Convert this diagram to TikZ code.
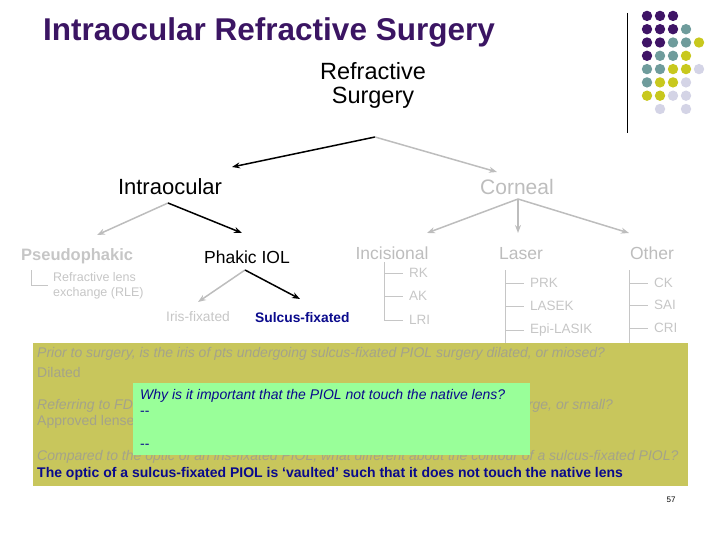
\documentclass[tikz,border=0pt]{standalone}
\usepackage{fontspec}
\setmainfont{Liberation Sans}
\usetikzlibrary{arrows.meta,positioning}

\definecolor{titlepurple}{HTML}{3B1563}
\definecolor{dotP}{HTML}{3F1466}
\definecolor{dotT}{HTML}{6F9C9C}
\definecolor{dotY}{HTML}{C8C81E}
\definecolor{dotL}{HTML}{D4D4E6}
\definecolor{dotN}{HTML}{FFFFFF}
\definecolor{treegray}{HTML}{BDBDBD}
\definecolor{leafgray}{HTML}{C6C6C6}
\definecolor{quizyellow}{HTML}{C8C65C}
\definecolor{quizgray}{HTML}{A4A38A}
\definecolor{answerblue}{HTML}{0A0A8C}
\definecolor{notegreen}{HTML}{99FF99}

\begin{document}
\begin{tikzpicture}[
    x=1pt, y=-1pt,
    >={Stealth[length=8pt,width=6pt]},
    main arrow/.style={->, line width=1.5pt, black},
    faded arrow/.style={->, line width=1.5pt, color=treegray},
    branch/.style={line width=0.7pt, color=leafgray},
    cat/.style={font=\fontsize{22}{24}\selectfont, align=center, inner sep=0pt},
    sub/.style={font=\fontsize{17.5}{20}\selectfont, inner sep=0pt},
    leaf/.style={font=\fontsize{13.5}{15}\selectfont, text=leafgray, anchor=west, inner xsep=6pt, inner ysep=0pt},
    quiz/.style={font=\fontsize{14}{16}\selectfont, anchor=west, inner sep=0pt},
]

\useasboundingbox (0,0) rectangle (720,540);

% Title and logo
\node[anchor=west, inner sep=0pt, font=\fontsize{31.5}{34}\selectfont\bfseries, text=titlepurple] (title) at (43,32) {Intraocular Refractive Surgery};
\coordinate (logoTop) at (627,13);
\coordinate (logoBot) at (627,133);
\draw[line width=1pt] (logoTop) -- (logoBot);
\foreach \row [count=\r] in {{P,P,P},{P,P,P,T},{P,P,T,T,Y},{P,T,T,Y},{T,T,Y,Y,L},{T,Y,Y,L},{Y,Y,L,L},{N,L,N,L}}
    \foreach \k [count=\c] in \row
        \fill[dot\k] (634+13*\c, 2.6+13.3*\r) circle (5.2);

% Top level
\node[cat, font=\fontsize{23.5}{24}\selectfont] (refr) at (373,85) {Refractive\\Surgery};
\node[cat] (intra) at (170,187) {Intraocular};
\node[cat, font=\fontsize{21}{24}\selectfont, text=treegray] (corn) at (517,187) {Corneal};

\coordinate (rsFoot) at (375,137);
\coordinate (intraIn) at (232,167);
\coordinate (cornIn) at (497,172);
\draw[main arrow] (rsFoot) -- (intraIn);
\draw[faded arrow] (rsFoot) -- (cornIn);

% Intraocular branch
\node[sub, font=\fontsize{16.5}{20}\selectfont\bfseries, text=leafgray, anchor=west] (pseudo) at (21,256) {Pseudophakic};
\node[sub, anchor=west] (phakic) at (204,257) {Phakic IOL};

\coordinate (intraFoot) at (168,203);
\coordinate (pseudoIn) at (97,235);
\coordinate (phakicIn) at (242,233);
\draw[faded arrow] (intraFoot) -- (pseudoIn);
\draw[main arrow] (intraFoot) -- (phakicIn);

\coordinate (pseudoTop) at (31,270);
\node[leaf, font=\fontsize{12.5}{15}\selectfont, align=left, inner xsep=5pt] (rle) at (48,285.5) {Refractive lens\\exchange (RLE)};
\draw[branch] (pseudoTop) |- (rle.west);

\node[anchor=west, inner sep=0pt, font=\fontsize{13.8}{15}\selectfont, text=leafgray] (iris) at (166,317) {Iris-fixated};
\node[anchor=west, inner sep=0pt, font=\fontsize{13.8}{15}\selectfont\bfseries, text=answerblue] (sulcus) at (255,318) {Sulcus-fixated};

\coordinate (phakicFoot) at (245,270);
\coordinate (irisIn) at (198,302);
\coordinate (sulcusIn) at (300,299);
\draw[faded arrow] (phakicFoot) -- (irisIn);
\draw[main arrow] (phakicFoot) -- (sulcusIn);

% Corneal branch
\node[sub, text=treegray] (incis) at (392,253) {Incisional};
\node[sub, text=treegray] (laser) at (521,254) {Laser};
\node[sub, text=treegray] (other) at (652,253) {Other};

\coordinate (cornFoot) at (518,199);
\coordinate (incisIn) at (427,233);
\coordinate (laserIn) at (518,233);
\coordinate (otherIn) at (629,233);
\draw[faded arrow] (cornFoot) -- (incisIn);
\draw[faded arrow] (cornFoot) -- (laserIn);
\draw[faded arrow] (cornFoot) -- (otherIn);

% Leaves
\node[leaf] (rk)  at (403,273) {RK};
\node[leaf] (ak)  at (403,296) {AK};
\node[leaf] (lri) at (403,320) {LRI};
\coordinate (incisTop) at (384,262);
\draw[branch] (incisTop) |- (rk.west) (incisTop) |- (ak.west) (incisTop) |- (lri.west);

\node[leaf] (prk)   at (524,283) {PRK};
\node[leaf] (lasek) at (524,306) {LASEK};
\node[leaf] (epi)   at (524,330) {Epi-LASIK};
\coordinate (laserTop) at (505,270);
\coordinate (laserBot) at (505,350);
\draw[branch] (laserTop) -- (laserBot) (laserTop) |- (prk.west) (laserTop) |- (lasek.west) (laserTop) |- (epi.west);

\node[leaf] (ck)  at (648,283) {CK};
\node[leaf] (sai) at (648,305) {SAI};
\node[leaf] (cri) at (648,328) {CRI};
\coordinate (otherTop) at (629,270);
\coordinate (otherBot) at (629,350);
\draw[branch] (otherTop) -- (otherBot) (otherTop) |- (ck.west) (otherTop) |- (sai.west) (otherTop) |- (cri.west);

% Quiz box
\fill[quizyellow] (33,343) rectangle (688,486);
\node[quiz, text=quizgray, font=\fontsize{14}{16}\selectfont\itshape] (q1) at (37,354) {Prior to surgery, is the iris of pts undergoing sulcus-fixated PIOL surgery dilated, or miosed?};
\node[quiz, text=quizgray] (a1) at (37,372) {Dilated};
\node[quiz, text=quizgray, font=\fontsize{14}{16}\selectfont\itshape] (q2a) at (37,406) {Referring to FD};
\node[quiz, text=quizgray, font=\fontsize{14}{16}\selectfont\itshape, anchor=east] (q2b) at (613,406) {rge, or small?};
\node[quiz, text=quizgray] (a2) at (37,422) {Approved lense};
\node[quiz, text=quizgray, font=\fontsize{14}{16}\selectfont\itshape] (q3) at (37,457) {Compared to the optic of an iris-fixated PIOL, what different about the contour of a sulcus-fixated PIOL?};
\node[quiz, text=answerblue, font=\fontsize{14}{16}\selectfont\bfseries] (a3) at (37,474) {The optic of a sulcus-fixated PIOL is ‘vaulted’ such that it does not touch the native lens};

% Note box on top
\fill[notegreen] (133,383) rectangle (530,455);
\node[quiz, text=answerblue, font=\fontsize{14}{16}\selectfont\itshape] (n1) at (140,396) {Why is it important that the PIOL not touch the native lens?};
\node[quiz, text=answerblue] (n2) at (140,413) {-{}-};
\node[quiz, text=answerblue] (n3) at (140,446) {-{}-};

% Page number
\node[inner sep=0pt, font=\fontsize{8}{10}\selectfont] (page) at (671,500) {57};

\end{tikzpicture}
\end{document}
